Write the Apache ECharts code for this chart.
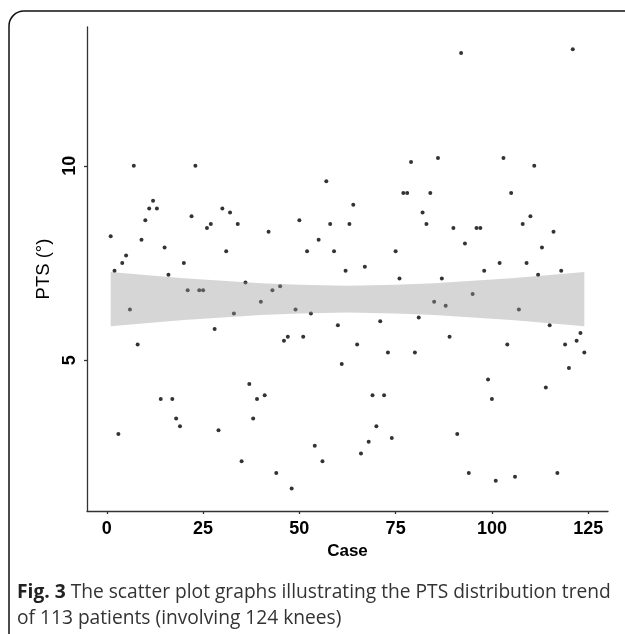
<!DOCTYPE html>
<html>
<head>
<meta charset="utf-8">
<script src="https://cdn.jsdelivr.net/npm/echarts@6/dist/echarts.min.js"></script>
<style>html,body{margin:0;padding:0;background:#fff;}#c{width:625px;height:634px;}</style>
</head>
<body>
<div id="c"></div>
<script>
// Case number (x) and PTS (°) value (y)
const caseValues = [
  8.19, 7.3, 3.1, 7.5, 7.69, 6.3, 10.0, 5.4, 8.1, 8.6,
  8.9, 9.1, 8.9, 4.0, 7.9, 7.2, 4.0, 3.5, 3.3, 7.5,
  6.8, 8.7, 10.0, 6.8, 6.8, 8.4, 8.5, 5.8, 3.2, 8.9,
  7.8, 8.8, 6.2, 8.5, 2.4, 7.0, 4.39, 3.5, 4.0, 6.5,
  4.1, 8.3, 6.8, 2.1, 6.9, 5.5, 5.6, 1.7, 6.3, 8.6,
  5.6, 7.8, 6.2, 2.8, 8.1, 2.4, 9.6, 8.5, 7.8, 5.9,
  4.9, 7.3, 8.5, 9.0, 5.4, 2.6, 7.4, 2.9, 4.1, 3.3,
  6.0, 4.1, 5.2, 3.0, 7.8, 7.1, 9.3, 9.3, 10.1, 5.2,
  6.1, 8.8, 8.5, 9.3, 6.5, 10.2, 7.1, 6.4, 5.6, 8.4,
  3.1, 12.9, 8.0, 2.1, 6.7, 8.4, 8.4, 7.3, 4.5, 4.0,
  1.9, 7.5, 10.2, 5.4, 9.3, 2.0, 6.3, 8.5, 7.5, 8.7,
  10.0, 7.2, 7.9, 4.3, 5.9, 8.3, 2.1, 7.3, 5.4, 4.8,
  13.0, 5.5, 5.7, 5.2
];
// Confidence band of the trend
const ribbonX     = [1, 10, 20, 30, 40, 50, 62.5, 75, 85, 95, 105, 115, 124];
const ribbonUpper = [7.27, 7.19, 7.11, 7.04, 6.98, 6.94, 6.915, 6.94, 6.98, 7.04, 7.11, 7.19, 7.27];
const ribbonLower = [5.87, 5.95, 6.03, 6.10, 6.16, 6.20, 6.225, 6.20, 6.16, 6.10, 6.03, 5.95, 5.87];
const xTicks = [0, 25, 50, 75, 100, 125];
const yTicks = [5, 10];
const xTitle = 'Case';
const yTitle = 'PTS (°)';
const captionBold = 'Fig. 3';
const captionLine1 = ' The scatter plot graphs illustrating the PTS distribution trend';
const captionLine2 = 'of 113 patients (involving 124 knees)';

const scatterData = caseValues.map((v, i) => [i + 1, v]);
const bandData = ribbonX.map((x, i) => [x, ribbonLower[i], ribbonUpper[i]]);

const chart = echarts.init(document.getElementById('c'), null, {renderer: 'canvas'});
const tickFont = {fontFamily: 'Liberation Sans, Arial, sans-serif', fontWeight: 'bold', fontSize: 18, color: '#000'};
chart.setOption({
  animation: false,
  backgroundColor: '#fff',
  grid: {left: 87, top: 27, right: 17, bottom: 123, containLabel: false},
  xAxis: {
    type: 'value', min: -5.15, max: 130.15,
    name: xTitle, nameLocation: 'middle', nameGap: 31,
    nameTextStyle: {fontFamily: 'Liberation Sans, Arial, sans-serif', fontWeight: 'bold', fontSize: 17, color: '#000'},
    axisLine: {show: true, onZero: false, lineStyle: {color: '#333', width: 1.3}},
    axisTick: {show: true, length: 3, customValues: xTicks, lineStyle: {color: '#333', width: 1.3}},
    axisLabel: Object.assign({customValues: xTicks, margin: 9}, tickFont),
    splitLine: {show: false}
  },
  yAxis: {
    type: 'value', min: 1.12, max: 13.57,
    name: yTitle, nameLocation: 'middle', nameGap: 31, nameRotate: 90,
    nameTextStyle: {fontFamily: 'Liberation Sans, Arial, sans-serif', fontSize: 18.5, color: '#000'},
    axisLine: {show: true, onZero: false, lineStyle: {color: '#333', width: 1.3}},
    axisTick: {show: true, length: 3, customValues: yTicks, lineStyle: {color: '#333', width: 1.3}},
    axisLabel: Object.assign({customValues: yTicks, rotate: 90, margin: 8}, tickFont),
    splitLine: {show: false}
  },
  series: [
    {
      type: 'scatter', data: scatterData, symbol: 'circle', symbolSize: 4,
      itemStyle: {color: '#000'}, z: 1, silent: true
    },
    {
      type: 'custom', data: bandData, z: 3, silent: true,
      encode: {x: 0, y: [1, 2]},
      renderItem: function (params, api) {
        if (params.dataIndex !== 0) return null;
        const up = [], lo = [];
        for (let i = 0; i < bandData.length; i++) {
          up.push(api.coord([bandData[i][0], bandData[i][2]]));
          lo.push(api.coord([bandData[i][0], bandData[i][1]]));
        }
        const pts = up.concat(lo.reverse());
        return {
          type: 'polygon',
          shape: {points: pts},
          style: {fill: 'rgba(153,153,153,0.4)', stroke: null}
        };
      }
    }
  ],
  graphic: [
    {
      type: 'rect', shape: {x: 9, y: 11, width: 700, height: 700, r: 15},
      style: {fill: 'none', stroke: '#111', lineWidth: 1.5}, silent: true
    },
    {
      type: 'text', left: 17, top: 583,
      style: {
        text: '{b|' + captionBold + '}{n|' + captionLine1 + '}',
        rich: {
          b: {fontFamily: 'Open Sans, sans-serif', fontWeight: 'bold', fontSize: 19.2, fill: '#222'},
          n: {fontFamily: 'Open Sans, sans-serif', fontSize: 19.2, fill: '#333'}
        }
      }
    },
    {
      type: 'text', left: 17, top: 609,
      style: {text: captionLine2, fontFamily: 'Open Sans, sans-serif', fontSize: 19.2, fill: '#333'}
    }
  ]
});
</script>
</body>
</html>
